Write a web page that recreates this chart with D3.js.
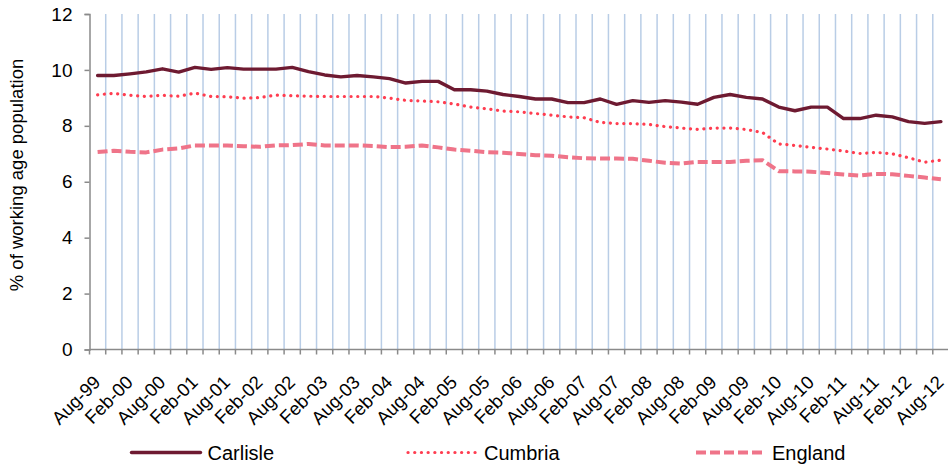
<!DOCTYPE html>
<html>
<head>
<meta charset="utf-8">
<script src="https://cdn.jsdelivr.net/npm/d3@7"></script>
<style>
  html, body { margin: 0; padding: 0; background: #fff; }
  svg { display: block; font-family: "Liberation Sans", Arial, sans-serif; }
</style>
</head>
<body>
<svg id="chart" width="948" height="468"></svg>
<script>
const categories = ["Aug-99","Nov-99","Feb-00","May-00","Aug-00","Nov-00","Feb-01","May-01","Aug-01","Nov-01",
  "Feb-02","May-02","Aug-02","Nov-02","Feb-03","May-03","Aug-03","Nov-03","Feb-04","May-04",
  "Aug-04","Nov-04","Feb-05","May-05","Aug-05","Nov-05","Feb-06","May-06","Aug-06","Nov-06",
  "Feb-07","May-07","Aug-07","Nov-07","Feb-08","May-08","Aug-08","Nov-08","Feb-09","May-09",
  "Aug-09","Nov-09","Feb-10","May-10","Aug-10","Nov-10","Feb-11","May-11","Aug-11","Nov-11",
  "Feb-12","May-12","Aug-12"];

const carlisle = [9.80, 9.80, 9.86, 9.93, 10.04, 9.92, 10.09, 10.02, 10.08, 10.03, 10.03, 10.03, 10.09, 9.94, 9.82, 9.75, 9.80, 9.75,
  9.69, 9.53, 9.59, 9.59, 9.29, 9.29, 9.24, 9.12, 9.05, 8.96, 8.96, 8.83, 8.83, 8.96, 8.77, 8.90, 8.84, 8.90,
  8.85, 8.77, 9.02, 9.12, 9.02, 8.96, 8.67, 8.54, 8.67, 8.67, 8.26, 8.26, 8.38, 8.32, 8.15, 8.09, 8.15];

const cumbria = [9.11, 9.16, 9.09, 9.05, 9.09, 9.06, 9.17, 9.05, 9.04, 8.99, 9.01, 9.10, 9.08, 9.06, 9.05, 9.05, 9.05, 9.05,
  8.99, 8.91, 8.89, 8.86, 8.78, 8.67, 8.61, 8.53, 8.50, 8.44, 8.38, 8.32, 8.29, 8.12, 8.08, 8.08, 8.05, 7.97,
  7.92, 7.87, 7.92, 7.92, 7.87, 7.76, 7.35, 7.30, 7.23, 7.17, 7.10, 7.01, 7.05, 7.00, 6.86, 6.70, 6.77];

const england = [7.06, 7.11, 7.07, 7.05, 7.15, 7.19, 7.30, 7.30, 7.30, 7.27, 7.25, 7.30, 7.31, 7.35, 7.30, 7.30, 7.30, 7.28,
  7.24, 7.25, 7.30, 7.23, 7.15, 7.11, 7.06, 7.04, 6.99, 6.95, 6.93, 6.88, 6.84, 6.83, 6.83, 6.82, 6.75, 6.68,
  6.65, 6.71, 6.71, 6.71, 6.75, 6.77, 6.38, 6.37, 6.36, 6.31, 6.26, 6.22, 6.28, 6.27, 6.21, 6.15, 6.09];

const yTicks = [0, 2, 4, 6, 8, 10, 12];
const seriesNames = ["Carlisle", "Cumbria", "England"];
const yTitle = "% of working age population";

const series = [
  { name: seriesNames[0], values: carlisle, color: "#6e1a31", width: 3.4, dash: null, cap: "round" },
  { name: seriesNames[1], values: cumbria, color: "#ff3d50", width: 3.2, dash: "0.1 6.6", cap: "round" },
  { name: seriesNames[2], values: england, color: "#ef7489", width: 4, dash: "10 4", cap: "butt" }
];

const svg = d3.select("#chart");
const plotLeft = 89.5, plotRight = 949, plotTop = 14, plotBottom = 349.5;

const x = d3.scaleBand().domain(categories).range([plotLeft, plotRight]).padding(0);
const y = d3.scaleLinear().domain([0, 12]).range([plotBottom, plotTop]);

// vertical gridlines at category boundaries
const boundaries = categories.map(c => x(c)).slice(1);
svg.append("g").selectAll("line").data(boundaries).join("line")
  .attr("x1", d => d).attr("x2", d => d)
  .attr("y1", plotTop).attr("y2", plotBottom)
  .attr("stroke", "#b9cde6").attr("stroke-width", 1.5);

// y axis
const yAxis = d3.axisLeft(y).tickValues(yTicks).tickSize(5).tickPadding(12).tickFormat(d3.format("d"));
const gy = svg.append("g").attr("transform", `translate(${plotLeft},0)`).call(yAxis);
gy.select(".domain").attr("stroke", "#8a8a8a").attr("stroke-width", 1.5);
gy.selectAll(".tick line").attr("stroke", "#8a8a8a").attr("stroke-width", 1.5);
gy.selectAll(".tick text").attr("font-size", 19).attr("fill", "#000")
  .attr("font-family", "Liberation Sans, Arial, sans-serif");

// x axis (line + ticks at boundaries)
const gx = svg.append("g");
gx.append("line").attr("x1", plotLeft).attr("x2", 948).attr("y1", plotBottom).attr("y2", plotBottom)
  .attr("stroke", "#8a8a8a").attr("stroke-width", 1.5);
gx.selectAll("line.tk").data(categories).join("line").attr("class", "tk")
  .attr("x1", d => x(d)).attr("x2", d => x(d))
  .attr("y1", plotBottom).attr("y2", plotBottom + 5)
  .attr("stroke", "#8a8a8a").attr("stroke-width", 1.5);

// x labels (every other category)
const labelCats = categories.filter((c, i) => i % 2 === 0);
gx.selectAll("text").data(labelCats).join("text")
  .attr("transform", d => `translate(${x(d) + x.bandwidth() / 2 + 4},${plotBottom + 34}) rotate(-45)`)
  .attr("text-anchor", "end")
  .attr("font-size", 18.5).attr("fill", "#000")
  .text(d => d);

// y title
svg.append("text")
  .attr("transform", `translate(23,175) rotate(-90)`)
  .attr("text-anchor", "middle")
  .attr("font-size", 18.5).attr("fill", "#000")
  .text(yTitle);

// lines
const line = d3.line()
  .x((d, i) => x(categories[i]) + x.bandwidth() / 2)
  .y(d => y(d));

series.forEach(s => {
  svg.append("path")
    .datum(s.values)
    .attr("d", line)
    .attr("fill", "none")
    .attr("stroke", s.color)
    .attr("stroke-width", s.width)
    .attr("stroke-linejoin", "round")
    .attr("stroke-linecap", s.cap)
    .attr("stroke-dasharray", s.dash);
});

// legend
const legendX = [131.5, 408, 696];
const legendY = 452.5;
const lg = svg.append("g");
series.forEach((s, i) => {
  lg.append("line")
    .attr("x1", legendX[i]).attr("x2", legendX[i] + 69)
    .attr("y1", legendY).attr("y2", legendY)
    .attr("stroke", s.color).attr("stroke-width", s.width)
    .attr("stroke-linecap", s.cap)
    .attr("stroke-dasharray", s.dash);
  lg.append("text")
    .attr("x", legendX[i] + 76).attr("y", legendY + 7.5)
    .attr("font-size", 20).attr("fill", "#000")
    .text(s.name);
});
</script>
</body>
</html>
